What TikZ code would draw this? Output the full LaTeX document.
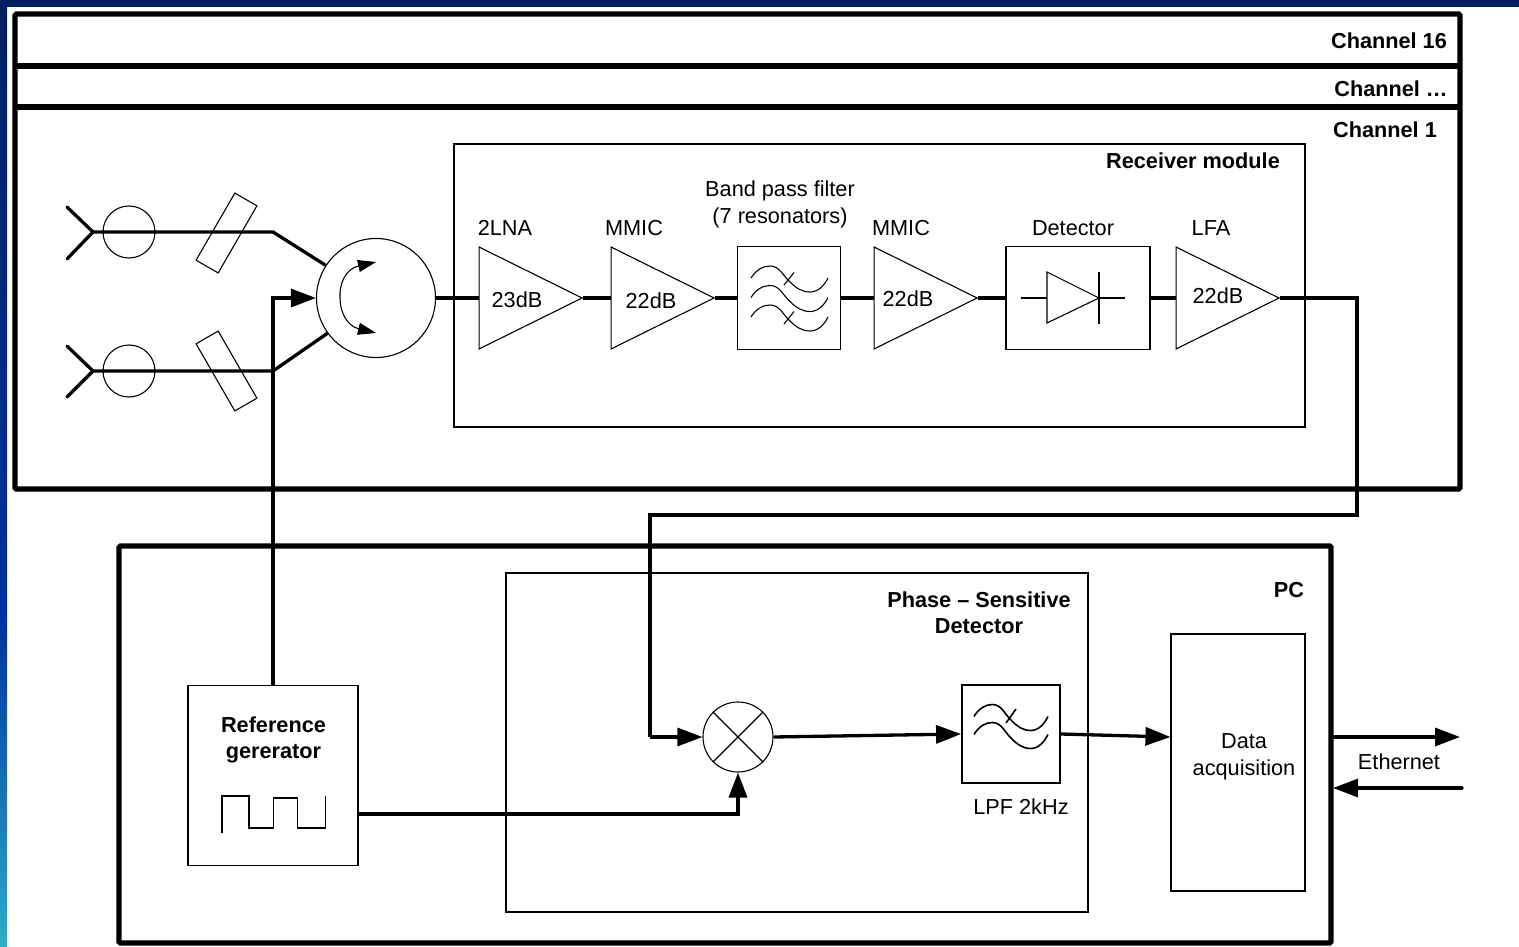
\documentclass[tikz,border=0pt]{standalone}
\usepackage{fontspec}
\setmainfont{Liberation Sans}
\usepackage{xcolor}
\usetikzlibrary{positioning, arrows.meta, shapes.geometric, calc}

\tikzset{
  frame/.style={line width=5.3pt, rounded corners=1.5pt},
  sig/.style={line width=3.3pt},
  sigarrow/.style={line width=3.3pt, -{Triangle[length=25pt,width=18pt]}},
  thinline/.style={line width=1.1pt},
  box/.style={draw, line width=1.1pt, inner sep=0pt, fill=white},
  amp/.style={draw, line width=1.1pt, isosceles triangle, isosceles triangle stretches,
    shape border rotate=0, minimum width=102pt, minimum height=103pt, inner sep=0pt,
    anchor=lower side},
  round/.style={draw, line width=1.1pt, circle, inner sep=0pt},
  filterwave/.pic={
    \draw[pic actions] (0,0) .. controls (5,-8) and (12,-12) .. (19,-12)
      .. controls (29,-12) and (32,-2) .. (39,4)
      .. controls (45,10) and (51,14) .. (59,14)
      .. controls (67,14) and (73,8) .. (77,0);
  }
}

\begin{document}
\begin{tikzpicture}[x=1pt, y=-1pt, every node/.style={font=\fontsize{21.7}{26.5}\selectfont, align=center}]
  % Define colors
  \definecolor{colNavy}{RGB}{0,32,96}
  \definecolor{colBlue}{RGB}{0,50,160}
  \definecolor{colTeal}{RGB}{43,175,200}

  \useasboundingbox (0,0) rectangle (1519,947);

  % Slide edge
  \shade[top color=colNavy, bottom color=colBlue] (0,0) rectangle (7,620);
  \shade[top color=colBlue, bottom color=colTeal] (0,620) rectangle (7,947);
  \fill[colNavy] (0,0) rectangle (1519,7);

  % Channel frames
  \draw[frame] (15,14) rectangle (1460,489);
  \draw[frame] (15,66) -- (1460,66);
  \draw[frame] (15,107) -- (1460,107);
  \node (ch16) at (1389,41) {\textbf{Channel 16}};
  \node (chdots) at (1391,89) {\textbf{Channel \dots}};
  \node (ch1) at (1385,130) {\textbf{Channel 1}};

  % PC frame
  \draw[frame] (119,546) rectangle (1331,943);
  \node (pc) at (1289,590) {\textbf{PC}};

  % Receiver module
  \draw[thinline] (454,144) rectangle (1305,427);
  \node (rxlabel) at (1193,161) {\textbf{Receiver module}};

  % Antennas and circulator
  \coordinate (ant1) at (93,232);
  \coordinate (ant2) at (93,371);
  \coordinate (bend1) at (273,232);
  \coordinate (bend2) at (273,371);
  \node[round, minimum size=119pt] (circ) at (376,298) {};
  \draw[sig, line cap=round] (67,207) -- (ant1) -- (67,259);
  \draw[sig, line cap=round] (67,346) -- (ant2) -- (67,397);
  \draw[sig] (ant1) -- (bend1) -- (circ.147);
  \draw[sig] (ant2) -- (bend2) -- (circ.216);
  \node[round, minimum size=52pt] (horn1) at (129,232) {};
  \node[round, minimum size=52pt] (horn2) at (129,371) {};
  \node[draw, line width=1.1pt, minimum width=77.5pt, minimum height=25.5pt, inner sep=0pt, rotate=60] (pol1) at (226.5,233) {};
  \node[draw, line width=1.1pt, minimum width=77.5pt, minimum height=25.5pt, inner sep=0pt, rotate=-60] (pol2) at (226.5,371) {};
  \draw[thinline, -{Triangle[length=18pt,width=12pt]}] (340,298) .. controls (339,285) and (345,269) .. (376,262);
  \draw[thinline, -{Triangle[length=18pt,width=12pt]}] (340,298) .. controls (340,312) and (347,326) .. (376,333);

  % Receiver chain
  \node[amp] (lna) at (478.5,298) {};
  \node[amp] (mmic1) at (610.5,298) {};
  \node[box, minimum width=103pt, minimum height=103pt] (bpf) at (789,298) {};
  \node[amp] (mmic2) at (873.5,298) {};
  \node[box, minimum width=144pt, minimum height=103pt] (det) at (1078,298) {};
  \node[amp] (lfa) at (1175.5,298) {};
  \draw[sig] (circ.east) -- (lna.lower side);
  \draw[sig] (lna.apex) -- (mmic1.lower side);
  \draw[sig] (mmic1.apex) -- (bpf.west);
  \draw[sig] (bpf.east) -- (mmic2.lower side);
  \draw[sig] (mmic2.apex) -- (det.west);
  \draw[sig] (det.east) -- (lfa.lower side);

  % Chain labels
  \node (lnagain) at (517,300) {23dB};
  \node (gain1) at (651,301) {22dB};
  \node (gain2) at (908,299) {22dB};
  \node (gain3) at (1218,296) {22dB};
  \node (lnatext) at (505,228) {2LNA};
  \node (mmictext1) at (634,228) {MMIC};
  \node (bpftext) at (780,204) {Band pass filter\\[0.5pt](7 resonators)};
  \node (mmictext2) at (901,228) {MMIC};
  \node (dettext) at (1073,228) {Detector};
  \node (lfatext) at (1211,228) {LFA};

  % Band pass symbol
  \foreach \dy in {0,19.5,39} {
    \pic[line width=1.1pt] at (751,278+\dy) {filterwave};
  }
  \foreach \dy in {0,39} {
    \draw[thinline] (784,285+\dy) -- (794,272.5+\dy);
  }

  % Diode symbol
  \draw[thinline] (1021,298) -- (1125,298);
  \draw[thinline, fill=white] (1047,272) -- (1099,298) -- (1047,323) -- cycle;
  \draw[thinline] (1099,272) -- (1099,324);

  % Phase detector
  \draw[thinline] (506,573) rectangle (1088,912);
  \node (psdlabel) at (979,612.5) {\textbf{Phase – Sensitive}\\\textbf{Detector}};
  \node[round, minimum size=70pt] (mixer) at (738,737) {};
  \draw[thinline] (mixer.north west) -- (mixer.south east);
  \draw[thinline] (mixer.north east) -- (mixer.south west);
  \node[box, line width=1.8pt, minimum width=98pt, minimum height=98pt] (lpf) at (1011,734) {};
  \node (lpftext) at (1021,807) {LPF 2kHz};
  \foreach \dy in {0,18} {
    \pic[line width=1.6pt, xscale=0.96] at (974,716.5+\dy) {filterwave};
  }
  \draw[line width=1.6pt] (1006,723) -- (1016,709);

  % Data acquisition
  \node[box, minimum width=134pt, minimum height=257pt] (daq) at (1238,762.5) {};
  \node (daqtext) at (1244,757) {Data\\acquisition};

  % Reference generator
  \node[box, line width=1.6pt, minimum width=170pt, minimum height=180pt] (refgen) at (273,775.5) {};
  \node (reftext) at (273.5,740) {\textbf{Reference}\\\textbf{gererator}};
  \draw[thinline] (222,833) |- (249,796) |- (273.3,828) |- (297.7,798) |- (325.3,828) -- (325.3,796);

  % Signal lines
  \coordinate (fold1) at (1357,298);
  \coordinate (fold2) at (1357,515);
  \coordinate (fold3) at (650,515);
  \coordinate (fold4) at (650,737);
  \coordinate (eth1) at (1333,737);
  \coordinate (eth2) at (1460,737);
  \coordinate (eth3) at (1462,788);
  \coordinate (eth4) at (1333,788);
  \draw[sigarrow] (refgen.north) -- (273,298) -- (circ.west);
  \draw[sig] (lfa.apex) -- (fold1) -- (fold2) -- (fold3) -- (fold4);
  \draw[sigarrow] (fold4) -- (mixer.west);
  \draw[sigarrow] (refgen.east |- 0,814) -- (738,814) -- (mixer.south);
  \draw[sigarrow] (mixer.east) -- (lpf.west);
  \draw[sigarrow] (lpf.east) -- (daq.west |- fold4);
  \draw[sigarrow] (eth1) -- (eth2);
  \draw[sigarrow, line cap=round] (eth3) -- (eth4);
  \node (ethtext) at (1399,762) {Ethernet};
\end{tikzpicture}
\end{document}
